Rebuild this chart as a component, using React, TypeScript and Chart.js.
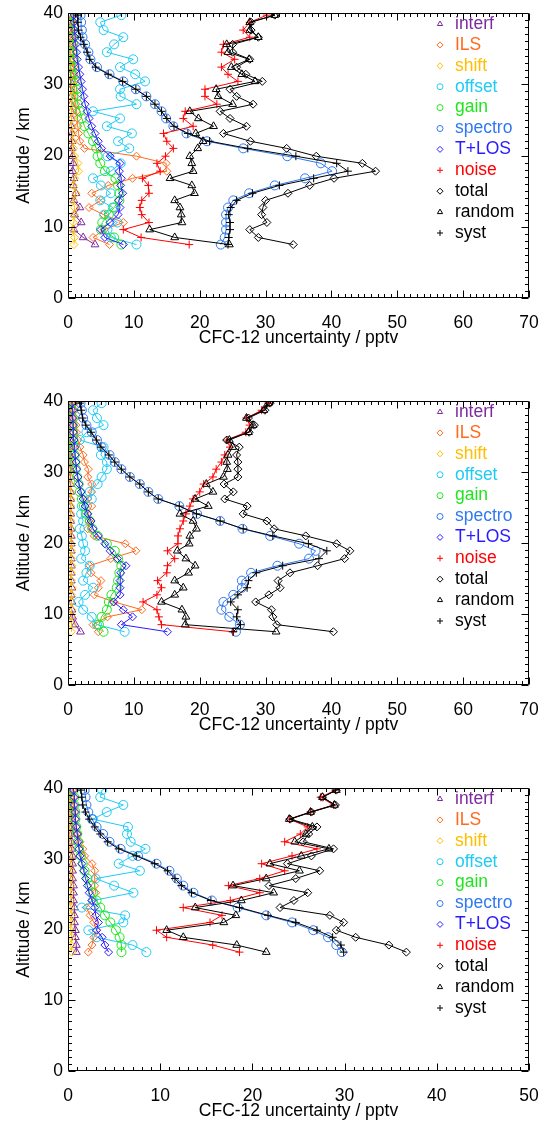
import React, { useEffect, useRef } from "react";
import { Chart, registerables } from "chart.js";
import { drawPoint } from "chart.js/helpers";

Chart.register(...registerables);

// ---------- data ----------
const ALT = [7.5, 8.5, 9.6, 10.6, 11.7, 12.7, 13.7, 14.7, 15.8, 16.8, 17.8, 18.9, 19.9, 21.0, 22.0, 23.1, 24.1, 25.2, 26.2, 27.2, 28.3, 29.3, 30.4, 31.4, 32.4, 33.5, 34.5, 35.6, 36.6, 37.6, 38.7, 39.7, 40.8];
const ALT_P3 = [16.8, 17.8, 18.9, 19.9, 21.0, 22.0, 23.1, 24.1, 25.2, 26.2, 27.2, 28.3, 29.3, 30.4, 31.4, 32.4, 33.5, 34.5, 35.6, 36.6, 37.6, 38.7, 39.7, 40.8];

const NAMES = ["interf", "ILS", "shift", "offset", "gain", "spectro", "T+LOS", "noise", "total", "random", "syst"];
const X_TITLE = "CFC-12 uncertainty / pptv";
const Y_TITLE = "Altitude / km";

// panel 1
const P1_INTERF = [4.1, 2.3, 0.9, 2.0, 1.0, 1.8, 0.9, 1.2, 0.8, 0.9, 0.7, 0.8, 0.7, 0.6, 0.6, 0.6, 0.5, 0.5, 0.5, 0.5, 0.5, 0.4, 0.4, 0.4, 0.4, 0.4, 0.4, 0.4, 0.4, 0.4, 0.4, 0.4, 0.4];
const P1_ILS = [6.3, 3.8, 5.5, 8.4, 5.4, 3.2, 5.0, 3.6, 6.1, 9.8, 15.0, 14.9, 10.4, 2.5, 1.8, 1.6, 1.5, 1.4, 1.3, 1.2, 1.1, 1.0, 1.0, 0.9, 0.9, 0.8, 0.8, 0.7, 0.7, 0.6, 0.6, 0.6, 0.5];
const P1_SHIFT = [0.9, 1.0, 0.7, 0.8, 0.9, 1.0, 0.7, 1.2, 0.8, 1.0, 1.6, 1.5, 1.0, 0.8, 0.7, 0.7, 0.6, 0.6, 0.6, 0.5, 0.5, 0.5, 0.5, 0.5, 0.4, 0.4, 0.4, 0.4, 0.4, 0.4, 0.4, 0.4, 0.4];
const P1_OFFSET = [10.4, 6.5, 6.0, 7.5, 5.5, 6.8, 4.9, 6.5, 5.0, 3.8, 6.5, 8.0, 6.0, 9.3, 7.6, 9.7, 5.9, 7.9, 3.8, 10.4, 8.0, 7.9, 11.7, 10.2, 7.9, 9.9, 5.9, 7.0, 8.4, 5.4, 4.9, 8.1, 6.4];
const P1_GAIN = [8.1, 7.0, 5.0, 5.2, 6.2, 7.0, 7.8, 7.8, 7.6, 7.2, 5.6, 4.9, 4.5, 4.3, 3.8, 3.1, 2.5, 2.1, 1.8, 1.5, 1.4, 1.3, 1.2, 1.1, 1.0, 0.9, 0.8, 0.8, 0.7, 0.7, 0.6, 0.6, 0.6];
const P1_SPECTRO = [23.2, 23.8, 24.0, 24.0, 24.0, 24.3, 25.1, 27.5, 31.4, 36.0, 40.1, 38.4, 33.3, 26.6, 21.1, 18.0, 16.0, 14.9, 14.2, 13.2, 11.9, 10.3, 8.4, 6.3, 4.4, 3.4, 3.1, 2.6, 2.2, 2.1, 2.0, 1.9, 1.9];
const P1_TLOS = [8.4, 5.6, 5.0, 6.4, 7.6, 7.9, 7.7, 8.3, 8.0, 8.1, 7.8, 7.9, 6.4, 5.1, 4.6, 4.1, 3.6, 3.2, 2.9, 2.6, 2.4, 2.2, 2.0, 1.8, 1.6, 1.4, 1.3, 1.2, 1.1, 1.0, 0.9, 0.9, 0.8];
const P1_NOISE = [18.4, 11.1, 8.4, 12.3, 11.2, 10.9, 11.2, 12.3, 12.2, 11.3, 14.0, 13.5, 14.8, 16.0, 15.0, 14.5, 19.0, 17.5, 17.8, 22.6, 20.8, 20.8, 25.8, 24.3, 23.3, 25.3, 23.3, 23.6, 27.6, 26.6, 27.6, 30.2, 29.0];
const P1_TOTAL = [34.2, 28.9, 27.6, 30.2, 29.4, 29.6, 30.0, 33.4, 36.7, 40.4, 46.7, 44.7, 37.7, 33.2, 27.7, 23.6, 27.1, 24.6, 23.1, 28.1, 25.6, 24.6, 29.5, 27.0, 25.6, 27.6, 25.0, 25.0, 28.9, 27.8, 27.8, 31.4, 29.5];
const P1_RANDOM = [24.5, 16.2, 12.4, 17.3, 17.2, 17.0, 16.2, 19.2, 18.8, 15.5, 19.0, 18.8, 18.5, 19.7, 20.5, 19.4, 22.1, 19.8, 18.5, 25.0, 22.8, 22.5, 28.4, 26.4, 24.8, 27.5, 24.3, 24.1, 28.9, 27.6, 27.6, 31.4, 29.2];
const P1_SYST = [24.3, 24.4, 24.6, 24.6, 24.4, 24.7, 25.6, 28.0, 32.1, 37.3, 42.5, 40.8, 34.6, 27.3, 21.5, 18.2, 16.1, 15.0, 14.2, 13.2, 11.9, 10.3, 8.3, 6.1, 4.2, 3.3, 2.9, 2.4, 1.9, 1.6, 1.5, 1.5, 1.5];

// panel 2
const P2_INTERF = [1.9, 1.1, 0.7, 0.6, 0.6, 0.5, 0.6, 0.5, 0.5, 0.5, 0.5, 0.5, 0.5, 0.5, 0.5, 0.4, 0.4, 0.4, 0.4, 0.4, 0.4, 0.4, 0.4, 0.3, 0.3, 0.3, 0.3, 0.3, 0.3, 0.3, 0.3, 0.3, 0.3];
const P2_ILS = [4.6, 3.8, 6.0, 11.2, 7.0, 4.0, 4.6, 5.0, 3.5, 3.3, 6.5, 10.3, 8.7, 4.0, 3.0, 3.2, 3.0, 3.6, 3.0, 3.6, 3.6, 3.0, 3.1, 2.5, 2.3, 1.8, 1.5, 1.3, 1.2, 1.1, 1.0, 1.0, 0.9];
const P2_SHIFT = [0.5, 0.6, 0.5, 0.6, 0.5, 0.5, 0.6, 0.5, 0.5, 0.6, 0.5, 0.5, 0.5, 0.4, 0.4, 0.4, 0.4, 0.4, 0.4, 0.4, 0.3, 0.3, 0.3, 0.3, 0.3, 0.3, 0.3, 0.3, 0.3, 0.3, 0.3, 0.3, 0.3];
const P2_OFFSET = [8.6, 4.4, 3.6, 2.3, 1.6, 2.6, 3.8, 2.3, 2.8, 3.3, 2.0, 2.6, 2.3, 2.1, 1.8, 2.3, 2.0, 2.1, 3.6, 3.3, 4.5, 5.1, 5.9, 5.9, 5.0, 5.4, 1.8, 2.8, 5.4, 4.4, 3.8, 5.1, 4.5];
const P2_GAIN = [5.4, 4.7, 5.1, 5.9, 6.2, 6.6, 7.4, 7.6, 7.8, 8.1, 7.6, 7.1, 5.9, 4.5, 3.7, 3.3, 2.8, 2.4, 2.1, 1.8, 1.6, 1.4, 1.2, 1.1, 1.0, 0.9, 0.8, 0.8, 0.7, 0.7, 0.6, 0.6, 0.6];
const P2_SPECTRO = [25.5, 26.1, 24.5, 23.3, 23.6, 25.1, 26.4, 26.4, 27.8, 31.8, 36.6, 37.6, 35.1, 30.7, 26.5, 23.1, 19.6, 16.9, 13.7, 12.2, 10.9, 9.4, 8.1, 7.1, 6.3, 5.1, 4.4, 3.6, 2.8, 2.3, 2.1, 1.9, 1.8];
const P2_TLOS = [15.1, 8.1, 9.8, 8.4, 6.9, 7.9, 7.9, 7.9, 8.0, 8.8, 7.5, 6.4, 5.6, 4.6, 3.8, 3.5, 3.0, 2.6, 2.3, 2.0, 1.7, 1.5, 1.3, 1.2, 1.1, 1.0, 0.9, 0.8, 0.8, 0.7, 0.7, 0.6, 0.6];
const P2_NOISE = [25.0, 14.2, 13.8, 13.5, 11.4, 13.5, 14.2, 13.6, 15.0, 15.1, 16.2, 15.1, 16.7, 16.7, 17.0, 17.5, 17.9, 18.5, 19.0, 20.0, 20.6, 22.0, 22.5, 23.3, 23.8, 24.6, 24.1, 27.0, 27.6, 27.1, 29.4, 30.4, 30.4];
const P2_TOTAL = [40.3, 31.7, 31.1, 30.9, 28.5, 30.5, 32.2, 31.9, 33.7, 37.9, 42.0, 42.8, 40.8, 36.1, 31.3, 30.2, 26.6, 27.2, 23.8, 25.1, 23.7, 25.8, 25.8, 25.8, 25.6, 26.0, 24.1, 27.5, 28.3, 27.4, 29.9, 30.7, 30.4];
const P2_RANDOM = [31.6, 17.8, 17.9, 17.3, 14.2, 16.2, 17.5, 16.2, 18.3, 19.3, 17.9, 16.6, 18.4, 18.5, 19.5, 19.0, 17.0, 21.3, 19.3, 22.0, 21.0, 23.6, 24.2, 24.1, 24.3, 25.0, 24.5, 27.4, 28.1, 27.1, 29.7, 30.4, 30.4];
const P2_SYST = [25.1, 26.2, 25.6, 25.8, 24.7, 25.8, 27.2, 27.4, 28.6, 32.6, 38.1, 39.3, 36.5, 31.1, 26.6, 23.1, 19.5, 16.9, 13.7, 12.2, 10.9, 9.4, 8.1, 7.1, 6.2, 5.0, 4.3, 3.5, 2.7, 2.2, 2.0, 1.8, 1.7];

// panel 3
const P3_INTERF = [0.9, 0.9, 0.8, 0.8, 0.7, 0.7, 0.7, 0.6, 0.6, 0.6, 0.5, 0.5, 0.5, 0.5, 0.4, 0.4, 0.4, 0.4, 0.4, 0.4, 0.3, 0.3, 0.3, 0.3];
const P3_ILS = [2.2, 2.6, 2.8, 3.1, 2.8, 2.4, 2.0, 2.6, 3.0, 2.9, 2.9, 2.9, 2.6, 1.8, 1.6, 1.3, 1.1, 0.9, 0.8, 0.7, 0.6, 0.6, 0.5, 0.5];
const P3_SHIFT = [0.4, 0.3, 0.4, 0.3, 0.3, 0.4, 0.3, 0.3, 0.3, 0.3, 0.3, 0.3, 0.3, 0.3, 0.2, 0.2, 0.2, 0.2, 0.2, 0.2, 0.2, 0.2, 0.2, 0.2];
const P3_OFFSET = [8.5, 7.0, 3.1, 2.2, 6.0, 6.2, 1.5, 2.7, 7.1, 5.0, 3.0, 7.8, 5.5, 7.0, 8.4, 6.8, 6.4, 6.5, 2.7, 4.2, 6.0, 3.5, 3.7, 5.3];
const P3_GAIN = [5.8, 5.8, 5.6, 5.2, 4.6, 4.0, 3.5, 3.1, 2.7, 2.4, 2.1, 1.8, 1.6, 1.4, 1.2, 1.1, 1.0, 0.9, 0.8, 0.8, 0.7, 0.7, 0.6, 0.6];
const P3_SPECTRO = [29.7, 29.1, 28.2, 26.6, 24.3, 21.5, 18.4, 15.6, 13.6, 12.5, 11.8, 11.0, 9.6, 7.6, 5.7, 4.5, 3.8, 3.1, 2.6, 2.2, 2.0, 1.9, 1.8, 1.7];
const P3_TLOS = [4.4, 4.0, 3.7, 3.1, 3.3, 3.0, 2.9, 2.6, 2.3, 2.1, 1.9, 1.7, 1.5, 1.3, 1.2, 1.1, 1.0, 0.9, 0.8, 0.8, 0.7, 0.7, 0.6, 0.6];
const P3_NOISE = [18.6, 15.7, 10.7, 9.6, 15.4, 16.7, 12.5, 17.6, 20.8, 17.4, 20.8, 23.5, 21.0, 24.3, 27.0, 23.5, 25.2, 26.0, 24.0, 26.3, 28.8, 27.4, 29.0, 31.2];
const P3_TOTAL = [36.7, 34.8, 31.2, 29.1, 29.9, 28.4, 23.0, 24.5, 26.0, 21.8, 24.7, 27.3, 23.8, 26.4, 28.8, 25.5, 26.1, 27.0, 24.1, 26.4, 29.0, 27.6, 29.1, 31.3];
const P3_RANDOM = [21.5, 18.3, 12.5, 10.7, 16.9, 18.2, 13.8, 18.8, 22.3, 17.9, 21.5, 25.1, 21.9, 25.3, 28.3, 24.6, 25.8, 26.5, 24.0, 26.3, 28.9, 27.6, 29.1, 31.3];
const P3_SYST = [29.9, 29.6, 28.7, 27.0, 24.7, 21.7, 18.6, 15.5, 13.4, 12.3, 11.6, 10.8, 9.4, 7.4, 5.5, 4.3, 3.5, 2.9, 2.3, 1.9, 1.6, 1.5, 1.4, 1.4];

// ---------- styles ----------
const COLORS = ["#7d2a9f", "#ff6a1f", "#ffbf00", "#1fcbf5", "#1fe51f", "#2f78f2", "#2a1aff", "#ff0000", "#000000", "#000000", "#000000"];
const STYLES = ["triangle", "rectRot", "rectRot", "circle", "circle", "circle", "rectRot", "cross", "rectRot", "triangle", "cross"];
const RADII = [4.5, 4, 4, 4.5, 4.5, 4.5, 4, 4, 4, 4.5, 4];
const FONT = "'Liberation Sans', Arial, Helvetica, sans-serif";

const PANELS = [
  { alt: ALT, xMax: 70, plotTop: 13, plotBottom: 298, series: [P1_INTERF, P1_ILS, P1_SHIFT, P1_OFFSET, P1_GAIN, P1_SPECTRO, P1_TLOS, P1_NOISE, P1_TOTAL, P1_RANDOM, P1_SYST] },
  { alt: ALT, xMax: 70, plotTop: 401, plotBottom: 685, series: [P2_INTERF, P2_ILS, P2_SHIFT, P2_OFFSET, P2_GAIN, P2_SPECTRO, P2_TLOS, P2_NOISE, P2_TOTAL, P2_RANDOM, P2_SYST] },
  { alt: ALT_P3, xMax: 50, plotTop: 788, plotBottom: 1071, series: [P3_INTERF, P3_ILS, P3_SHIFT, P3_OFFSET, P3_GAIN, P3_SPECTRO, P3_TLOS, P3_NOISE, P3_TOTAL, P3_RANDOM, P3_SYST] },
];

const framePlugin = {
  id: "idlFrame",
  afterDatasetsDraw(chart: any) {
    const { ctx, chartArea: a, scales } = chart;
    const xs = scales.x;
    const ys = scales.y;
    const L = Math.round(a.left) + 0.5;
    const R = Math.round(a.right) - 0.5;
    const T = Math.round(a.top) + 0.5;
    const B = Math.round(a.bottom) - 0.5;
    ctx.save();
    ctx.strokeStyle = "#000";
    ctx.lineWidth = 1;
    ctx.beginPath();
    ctx.rect(L, T, R - L, B - T);
    for (let v = xs.min; v <= xs.max; v += 1) {
      const p = Math.round(xs.getPixelForValue(v)) + 0.5;
      const len = v % 10 === 0 ? 7 : 3.5;
      ctx.moveTo(p, B); ctx.lineTo(p, B - len);
      ctx.moveTo(p, T); ctx.lineTo(p, T + len);
    }
    for (let v = ys.min; v <= ys.max; v += 1) {
      const p = Math.round(ys.getPixelForValue(v)) + 0.5;
      const len = v % 10 === 0 ? 7 : 3.5;
      ctx.moveTo(L, p); ctx.lineTo(L + len, p);
      ctx.moveTo(R, p); ctx.lineTo(R - len, p);
    }
    ctx.stroke();

    // legend
    ctx.font = `17.5px ${FONT}`;
    ctx.textBaseline = "middle";
    ctx.textAlign = "left";
    NAMES.forEach((name, i) => {
      const y = a.top + 11 + i * 20.9;
      ctx.fillStyle = "rgba(0,0,0,0)";
      ctx.strokeStyle = COLORS[i];
      ctx.lineWidth = 1;
      drawPoint(ctx, { pointStyle: STYLES[i], radius: 3, borderWidth: 1, rotation: 0 } as any, a.right - 89, y);
      ctx.fillStyle = COLORS[i];
      ctx.fillText(name, a.right - 74, y);
    });
    ctx.restore();
  },
};

function Panel({ cfg }: { cfg: any }) {
  const ref = useRef<HTMLCanvasElement>(null);
  const top = cfg.plotTop - 13;
  const height = cfg.plotBottom - cfg.plotTop + 13 + 53;
  useEffect(() => {
    if (!ref.current) return;
    const datasets = NAMES.map((name, k) => ({
      label: name,
      data: cfg.series[k].map((v: number, i: number) => ({ x: v, y: cfg.alt[i] })),
      showLine: true,
      borderColor: COLORS[k],
      borderWidth: 1,
      backgroundColor: "rgba(0,0,0,0)",
      pointStyle: STYLES[k],
      pointRadius: RADII[k],
      pointBorderWidth: 1,
      pointBorderColor: COLORS[k],
      pointBackgroundColor: "rgba(0,0,0,0)",
      order: NAMES.length - k,
    }));
    const chart = new Chart(ref.current, {
      type: "scatter",
      data: { datasets },
      options: {
        animation: false,
        responsive: false,
        events: [],
        layout: { padding: { top: 13, right: 14, left: 0, bottom: 0 } },
        plugins: { legend: { display: false }, tooltip: { enabled: false } },
        scales: {
          x: {
            type: "linear",
            min: 0,
            max: cfg.xMax,
            ticks: { stepSize: 10, color: "#000", font: { family: FONT, size: 17.5 }, padding: 15, maxRotation: 0 },
            grid: { display: false, drawTicks: false },
            border: { display: false },
            title: { display: true, text: X_TITLE, color: "#000", font: { family: FONT, size: 17.5 }, padding: { top: 0, bottom: 2 } },
            afterFit(s: any) { s.height = 53; s.paddingLeft = 0; s.paddingRight = 0; },
          },
          y: {
            type: "linear",
            min: 0,
            max: 40,
            ticks: { stepSize: 10, color: "#000", font: { family: FONT, size: 17.5 }, padding: 5 },
            grid: { display: false, drawTicks: false },
            border: { display: false },
            title: { display: true, text: Y_TITLE, color: "#000", font: { family: FONT, size: 17.5 }, padding: { top: 14, bottom: 0 } },
            afterFit(s: any) { s.width = 68; s.paddingTop = 0; s.paddingBottom = 0; },
          },
        },
      } as any,
      plugins: [framePlugin],
    });
    return () => chart.destroy();
  }, []);
  return (
    <canvas
      ref={ref}
      width={543}
      height={height}
      style={{ position: "absolute", left: 0, top, width: 543, height }}
    />
  );
}

export default function App() {
  return (
    <div style={{ position: "absolute", left: 0, top: 0, width: 543, height: 1123, overflow: "hidden", background: "#fff" }}>
      {PANELS.map((p, i) => (
        <Panel key={i} cfg={p} />
      ))}
    </div>
  );
}
